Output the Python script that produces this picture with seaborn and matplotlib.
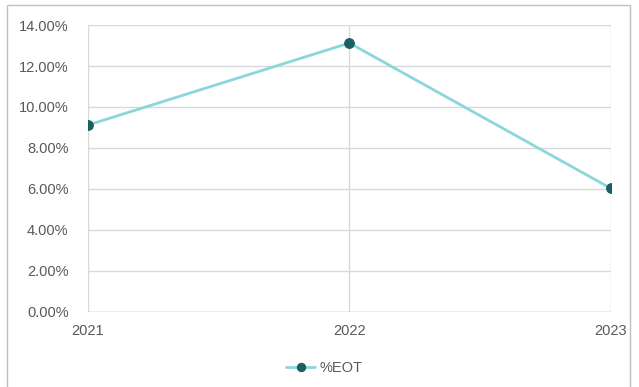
import pandas as pd
import seaborn as sns
import matplotlib.pyplot as plt
from matplotlib.ticker import PercentFormatter
from matplotlib.patches import Rectangle

years = [2021, 2022, 2023]
eot_pct = [9.12, 13.12, 6.03]
y_ticks = [0, 2, 4, 6, 8, 10, 12, 14]

df = pd.DataFrame({'year': years, 'eot': eot_pct})

sns.set_style("white")
plt.rcParams['font.family'] = ['Liberation Sans', 'DejaVu Sans']

fig = plt.figure(figsize=(6.39, 3.87), dpi=100)
ax = fig.add_axes([0.1377, 0.1938, 0.8183, 0.7416])

sns.lineplot(data=df, x='year', y='eot', ax=ax, color='#8bd6da', linewidth=2,
             marker='o', markersize=7, markerfacecolor='#1c5f63',
             markeredgecolor='#1c5f63', label='%EOT')

ax.set_xlim(2021, 2023)
ax.set_ylim(0, 14)
ax.set_xticks(years)
ax.set_xticklabels([str(y) for y in years])
ax.set_yticks(y_ticks)
ax.yaxis.set_major_formatter(PercentFormatter(decimals=2))
ax.grid(True, color='#d9d9d9', linewidth=1)
ax.set_axisbelow(True)
for s in ax.spines.values():
    s.set_visible(False)
ax.axhline(0, color='#bfbfbf', linewidth=1, zorder=1)
ax.tick_params(axis='both', length=0, labelsize=10.5, labelcolor='#595959')
ax.tick_params(axis='y', pad=14)
ax.tick_params(axis='x', pad=9)
ax.set_xlabel('')
ax.set_ylabel('')

leg = ax.legend(loc='upper center', bbox_to_anchor=(0.452, -0.125), frameon=False,
                fontsize=10.5, labelcolor='#595959', handlelength=2.0, handletextpad=0.3)
for h in leg.legend_handles:
    h.set_markersize(6)

fig.patches.append(Rectangle((0.011, -0.01), 0.975, 0.997, transform=fig.transFigure,
                             fill=False, edgecolor='#bfbfbf', linewidth=1))

fig.savefig('out.png', dpi=100)
